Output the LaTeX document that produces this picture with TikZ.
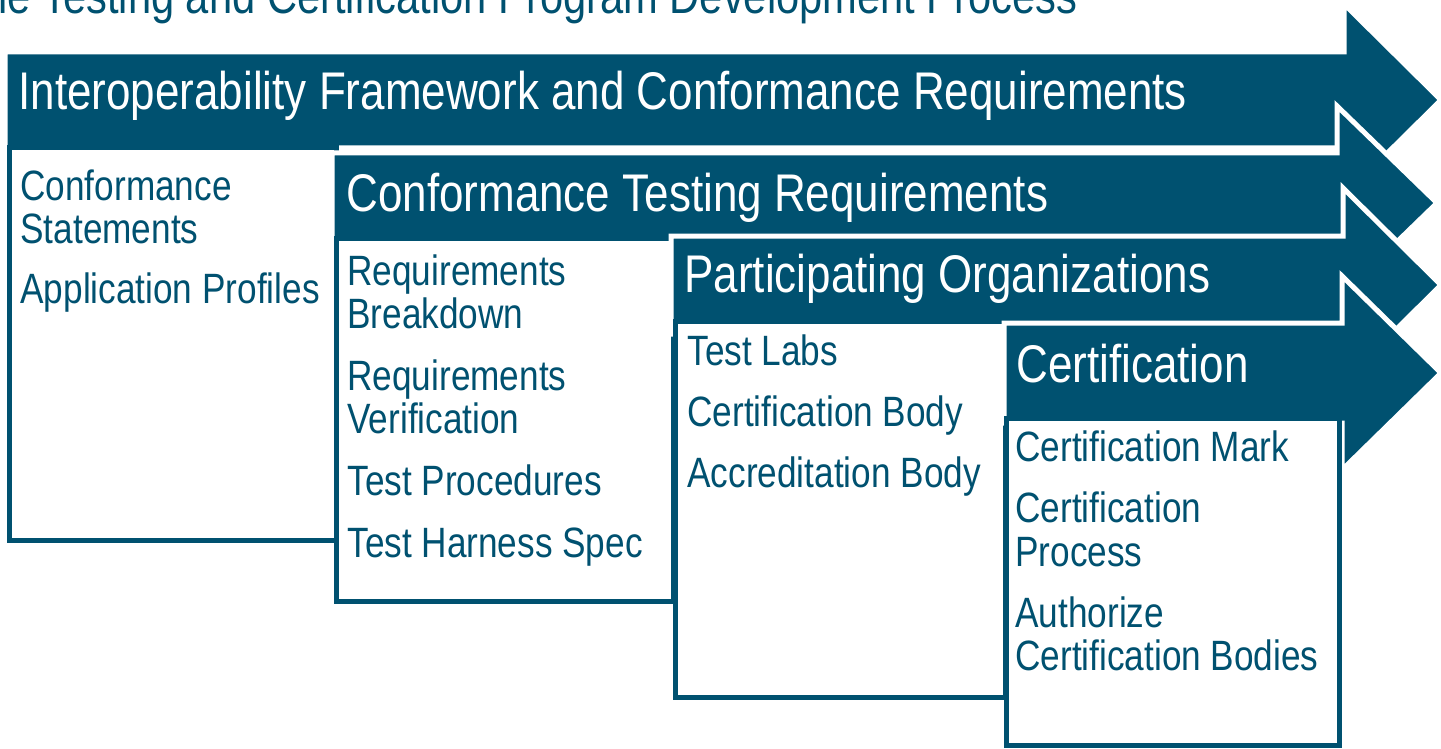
\documentclass[tikz,border=0pt]{standalone}
\usepackage{fontspec}
\setmainfont{Liberation Sans}[FakeStretch=0.83]
\definecolor{dk}{RGB}{0,81,112}
\begin{document}
\begin{tikzpicture}[x=0.5pt,y=-0.5pt,
  arrowshape/.style={fill=dk, draw=white, line width=2.5pt},
  boxshape/.style={fill=white, draw=dk, line width=2.5pt},
  headtext/.style={text=white, font=\fontsize{26.5}{30}\selectfont, anchor=base west, inner sep=0pt},
  itemtext/.style={text=dk, font=\fontsize{21.2}{25}\selectfont, anchor=base west, inner sep=0pt},
  titletext/.style={text=dk, font=\fontsize{25.1}{29}\selectfont, anchor=base west, inner sep=0pt}]
\useasboundingbox (0,0) rectangle (1441,749);
\clip (0,0) rectangle (1441,749);

\node[titletext] (title) at (-2,14) {le Testing and Certification Program Development Process};

% Stage 1
\draw[arrowshape] (5,52) -- (1344,52) -- (1344,4) -- (1441,100) -- (1344,196) -- (1344,148) -- (5,148) -- cycle;
\draw[boxshape] (9,148) rectangle (336,540);
\node[headtext] (h1) at (18,110) {Interoperability Framework and Conformance Requirements};
\node[itemtext] (a1) at (20,200) {Conformance};
\node[itemtext] (a2) at (20,243) {Statements};
\node[itemtext] (a3) at (20,303) {Application Profiles};

% Stage 2
\draw[arrowshape] (332,153) -- (1337,153) -- (1337,106) -- (1437,203) -- (1337,300) -- (1337,253) -- (332,253) -- cycle;
\draw[boxshape] (336,238) rectangle (673,601);
\node[headtext] (h2) at (346,212) {Conformance Testing Requirements};
\node[itemtext] (b1) at (347,285) {Requirements};
\node[itemtext] (b2) at (347,328) {Breakdown};
\node[itemtext] (b3) at (347,390) {Requirements};
\node[itemtext] (b4) at (347,433) {Verification};
\node[itemtext] (b5) at (347,495) {Test Procedures};
\node[itemtext] (b6) at (347,557) {Test Harness Spec};

% Stage 3
\draw[arrowshape] (671,236) -- (1343,236) -- (1343,188) -- (1441,285) -- (1343,382) -- (1343,334) -- (671,334) -- cycle;
\draw[boxshape] (675,321) rectangle (1005,697);
\node[headtext] (h3) at (684,292) {Participating Organizations};
\node[itemtext] (c1) at (687,365) {Test Labs};
\node[itemtext] (c2) at (687,426) {Certification Body};
\node[itemtext] (c3) at (687,487) {Accreditation Body};

% Stage 4
\draw[arrowshape] (1004,323) -- (1342,323) -- (1342,276) -- (1441,373) -- (1342,470) -- (1342,423) -- (1004,423) -- cycle;
\draw[boxshape] (1006,418) rectangle (1339,745);
\node[headtext] (h4) at (1016,382) {Certification};
\node[itemtext] (d1) at (1015,461) {Certification Mark};
\node[itemtext] (d2) at (1015,522) {Certification};
\node[itemtext] (d3) at (1015,566) {Process};
\node[itemtext] (d4) at (1015,627) {Authorize};
\node[itemtext] (d5) at (1015,670) {Certification Bodies};
\end{tikzpicture}
\end{document}
